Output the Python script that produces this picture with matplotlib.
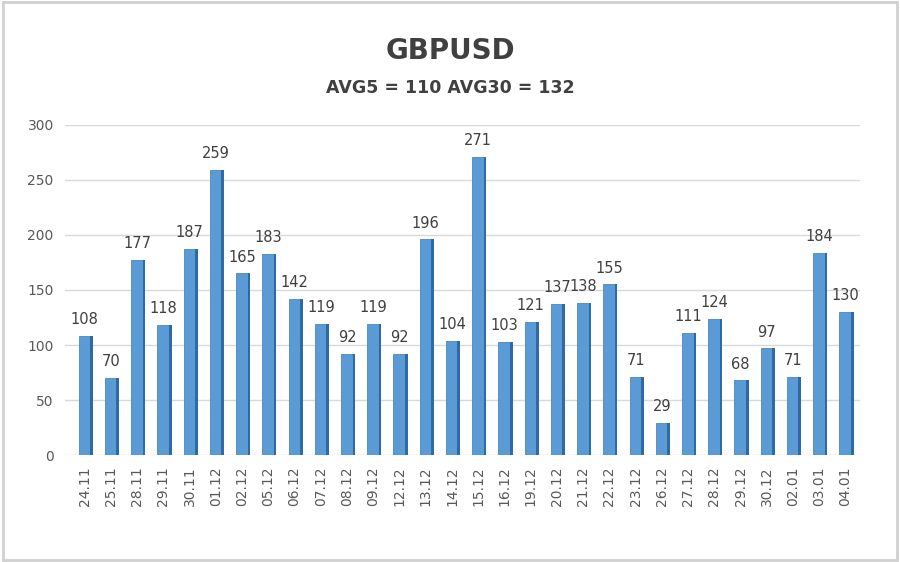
import numpy as np
from matplotlib import pyplot as plt
from matplotlib.patches import Rectangle

dates = ['24.11', '25.11', '28.11', '29.11', '30.11', '01.12', '02.12', '05.12',
         '06.12', '07.12', '08.12', '09.12', '12.12', '13.12', '14.12', '15.12',
         '16.12', '19.12', '20.12', '21.12', '22.12', '23.12', '26.12', '27.12',
         '28.12', '29.12', '30.12', '02.01', '03.01', '04.01']
values = [108, 70, 177, 118, 187, 259, 165, 183, 142, 119, 92, 119, 92, 196, 104,
          271, 103, 121, 137, 138, 155, 71, 29, 111, 124, 68, 97, 71, 184, 130]
yticks = [0, 50, 100, 150, 200, 250, 300]

fig = plt.figure(figsize=(9, 5.62), dpi=100)
fig.patches.append(Rectangle((0.003, 0.004), 0.994, 0.992, transform=fig.transFigure,
                             fill=False, edgecolor='#d0d0d0', linewidth=2))
ax = fig.add_axes([0.072, 0.19, 0.884, 0.588])

x = np.arange(len(values))
ax.bar(x, values, width=0.46, color='#5b9bd5', edgecolor='#4a86c0', linewidth=0.6, zorder=3)
# darker right side to mimic the 3D column look
ax.bar(x + 0.26, values, width=0.1, color='#2e6aa3', linewidth=0, zorder=3)

for xi, v in zip(x, values):
    ax.text(xi, v + 8, str(v), ha='center', va='bottom', fontsize=10.5, color='#404040')

ax.set_xlim(-0.76, len(values) - 0.43)
ax.set_ylim(0, 300)
ax.set_yticks(yticks)
ax.set_yticklabels([str(t) for t in yticks], fontsize=10, color='#595959')
ax.set_xticks(x)
ax.set_xticklabels(dates, rotation=90, fontsize=10, color='#595959')
ax.tick_params(length=0, pad=8)
ax.grid(axis='y', color='#d9d9d9', linewidth=1, zorder=0)
for s in ax.spines.values():
    s.set_visible(False)

fig.text(0.5, 0.91, 'GBPUSD', ha='center', va='center', fontsize=20,
         fontweight='bold', color='#404040')
fig.text(0.5, 0.843, 'AVG5 = 110 AVG30 = 132', ha='center', va='center', fontsize=12.5,
         fontweight='bold', color='#404040')

fig.savefig('out.png')
